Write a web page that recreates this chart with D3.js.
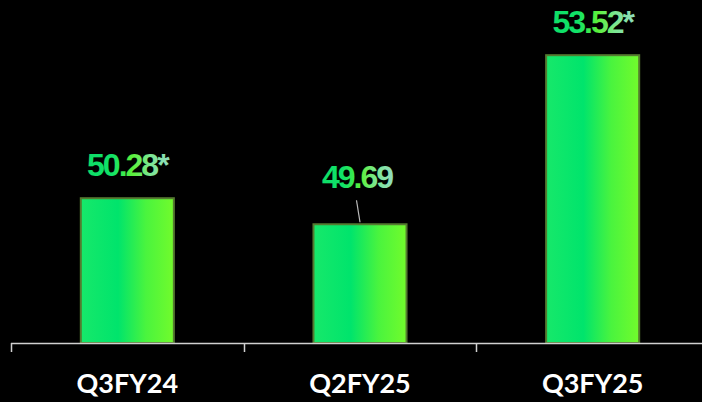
<!DOCTYPE html>
<html>
<head>
<meta charset="utf-8">
<script src="https://cdn.jsdelivr.net/npm/d3@7"></script>
<style>
  html, body { margin: 0; padding: 0; background: #000; }
  svg { display: block; }
</style>
</head>
<body>
<svg id="chart" width="702" height="402"></svg>
<script>
// Quarterly values
const categories = ["Q3FY24", "Q2FY25", "Q3FY25"];
const values = [50.28, 49.69, 53.52];
const valueLabels = ["50.28*", "49.69", "53.52*"];

const W = 702, H = 402;
const svg = d3.select("#chart");

svg.append("rect").attr("width", W).attr("height", H).attr("fill", "#000");

const x = d3.scaleBand().domain(categories).range([11, 709]).paddingInner(0.6).paddingOuter(0.3);
const y = d3.scaleLinear().domain([47, 54]).range([343, 34]);

const defs = svg.append("defs");
const barGrad = defs.append("linearGradient").attr("id", "barGrad")
  .attr("x1", "0%").attr("x2", "100%").attr("y1", "0%").attr("y2", "0%");
barGrad.append("stop").attr("offset", "0%").attr("stop-color", "#17e86a");
barGrad.append("stop").attr("offset", "40%").attr("stop-color", "#00e46c");
barGrad.append("stop").attr("offset", "70%").attr("stop-color", "#4af43e");
barGrad.append("stop").attr("offset", "100%").attr("stop-color", "#72fb2c");

const txtGrad = defs.append("linearGradient").attr("id", "txtGrad")
  .attr("x1", "0%").attr("x2", "100%").attr("y1", "0%").attr("y2", "0%");
txtGrad.append("stop").attr("offset", "0%").attr("stop-color", "#0ede68");
txtGrad.append("stop").attr("offset", "30%").attr("stop-color", "#10e268");
txtGrad.append("stop").attr("offset", "55%").attr("stop-color", "#5cf03a");
txtGrad.append("stop").attr("offset", "75%").attr("stop-color", "#7ae690");
txtGrad.append("stop").attr("offset", "100%").attr("stop-color", "#92dcc0");

// Bars
svg.selectAll("rect.bar").data(values).join("rect")
  .attr("class", "bar")
  .attr("x", (d, i) => x(categories[i]))
  .attr("width", x.bandwidth())
  .attr("y", d => y(d))
  .attr("height", d => y(47) - y(d))
  .attr("fill", "url(#barGrad)")
  .attr("stroke", "#557a30")
  .attr("stroke-width", 2);

// X axis with ticks at band boundaries
const axisG = svg.append("g");
axisG.append("line")
  .attr("x1", 11).attr("x2", W).attr("y1", 343.5).attr("y2", 343.5)
  .attr("stroke", "#d0d0d0").attr("stroke-width", 1.5);
const bounds = categories.map(c => x(c) - x.step() * x.paddingInner() / 2);
axisG.selectAll("line.tick").data(bounds).join("line")
  .attr("class", "tick")
  .attr("x1", d => Math.round(d) + 0.5).attr("x2", d => Math.round(d) + 0.5)
  .attr("y1", 343).attr("y2", 352)
  .attr("stroke", "#d0d0d0").attr("stroke-width", 1.5);

// Category labels
svg.selectAll("text.cat").data(categories).join("text")
  .attr("class", "cat")
  .attr("x", d => x(d) + x.bandwidth() / 2)
  .attr("y", 393)
  .attr("text-anchor", "middle")
  .attr("fill", "#fff")
  .attr("font-family", "Lato, 'Open Sans', sans-serif")
  .attr("font-weight", 700)
  .attr("font-size", 27)
  .text(d => d);

// Value labels (middle one is lifted with a leader line)
const lift = [0, 14, 0];
svg.selectAll("line.leader").data(values.filter((d, i) => lift[i] > 0).map(d => values.indexOf(d))).join("line")
  .attr("class", "leader")
  .attr("x1", i => x(categories[i]) + x.bandwidth() / 2 - 3.5)
  .attr("y1", i => y(values[i]) - 24)
  .attr("x2", i => x(categories[i]) + x.bandwidth() / 2)
  .attr("y2", i => y(values[i]) - 2)
  .attr("stroke", "#bbbbbb").attr("stroke-width", 1.2);

svg.selectAll("text.val").data(values).join("text")
  .attr("class", "val")
  .attr("x", (d, i) => x(categories[i]) + x.bandwidth() / 2 + (i === 1 ? -3 : 0))
  .attr("y", (d, i) => y(d) - 22 - lift[i])
  .attr("text-anchor", "middle")
  .attr("fill", "url(#txtGrad)")
  .attr("font-family", "'Liberation Sans', Arial, sans-serif")
  .attr("font-weight", 700)
  .attr("font-size", 32)
  .attr("letter-spacing", -2)
  .text((d, i) => valueLabels[i]);
</script>
</body>
</html>
